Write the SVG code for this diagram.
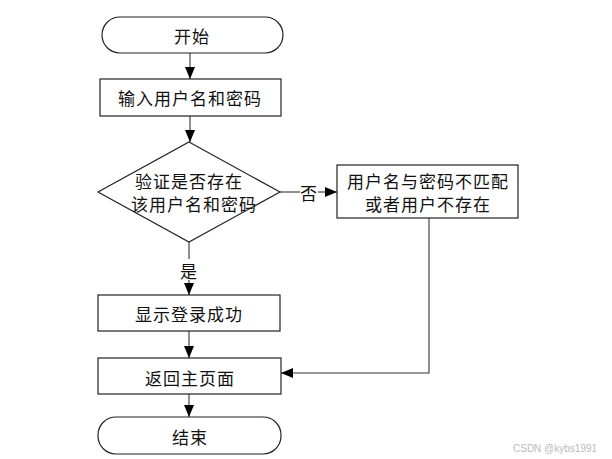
<svg xmlns="http://www.w3.org/2000/svg" width="612" height="459" viewBox="0 0 612 459">
<style>
.s{fill:#fff;stroke:#222;stroke-width:1.2}
.t{font-family:"Noto Sans CJK SC","Liberation Serif",serif;font-size:17px;fill:#111;text-anchor:middle;dominant-baseline:central;letter-spacing:1px}
.c{fill:none;stroke:#333;stroke-width:1.1}
.w{font-family:"Liberation Sans",sans-serif;font-size:10px;fill:#bbb}
</style>
<defs>
<marker id="a" viewBox="0 0 12 10" refX="12" refY="5" markerWidth="12" markerHeight="10" markerUnits="userSpaceOnUse" orient="auto">
<path d="M0,0 L12,5 L0,10 Z" fill="#000"/>
</marker>
</defs>
<rect width="612" height="459" fill="#fff"/>
<g id="connectors">
<line class="c" x1="190" y1="53" x2="190" y2="79" marker-end="url(#a)"/>
<line class="c" x1="190" y1="116" x2="190" y2="142" marker-end="url(#a)"/>
<polyline class="c" points="280,192 300,192"/>
<line class="c" x1="318" y1="192" x2="337" y2="192" marker-end="url(#a)"/>
<line class="c" x1="189" y1="242" x2="189" y2="259"/>
<line class="c" x1="189" y1="280" x2="189" y2="295" marker-end="url(#a)"/>
<line class="c" x1="189" y1="331" x2="189" y2="358" marker-end="url(#a)"/>
<polyline class="c" points="429,218 429,373 281,373" marker-end="url(#a)"/>
<line class="c" x1="189" y1="394" x2="189" y2="417" marker-end="url(#a)"/>
<text class="t" x="309" y="192">否</text>
<text class="t" x="189" y="270">是</text>
</g>
<g id="start">
<rect class="s" x="102" y="17" width="181" height="36" rx="18" ry="18"/>
<text class="t" x="192" y="35">开始</text>
</g>
<g id="input">
<rect class="s" x="100" y="79" width="181" height="37"/>
<text class="t" x="190" y="97">输入用户名和密码</text>
</g>
<g id="check">
<polygon class="s" points="189,142 280,192 189,242 98,192"/>
<text class="t" x="189" y="180">验证是否存在</text>
<text class="t" x="194" y="203">该用户名和密码</text>
</g>
<g id="fail">
<rect class="s" x="337" y="165" width="181" height="53"/>
<text class="t" x="428" y="180">用户名与密码不匹配</text>
<text class="t" x="428" y="203">或者用户不存在</text>
</g>
<g id="success">
<rect class="s" x="98" y="295" width="182" height="36"/>
<text class="t" x="189" y="313">显示登录成功</text>
</g>
<g id="return">
<rect class="s" x="98" y="358" width="183" height="36"/>
<text class="t" x="190" y="377">返回主页面</text>
</g>
<g id="end">
<rect class="s" x="98" y="417" width="183" height="37" rx="18" ry="18"/>
<text class="t" x="190" y="436">结束</text>
</g>
<text class="w" x="513" y="452">CSDN @kybs1991</text>
</svg>
